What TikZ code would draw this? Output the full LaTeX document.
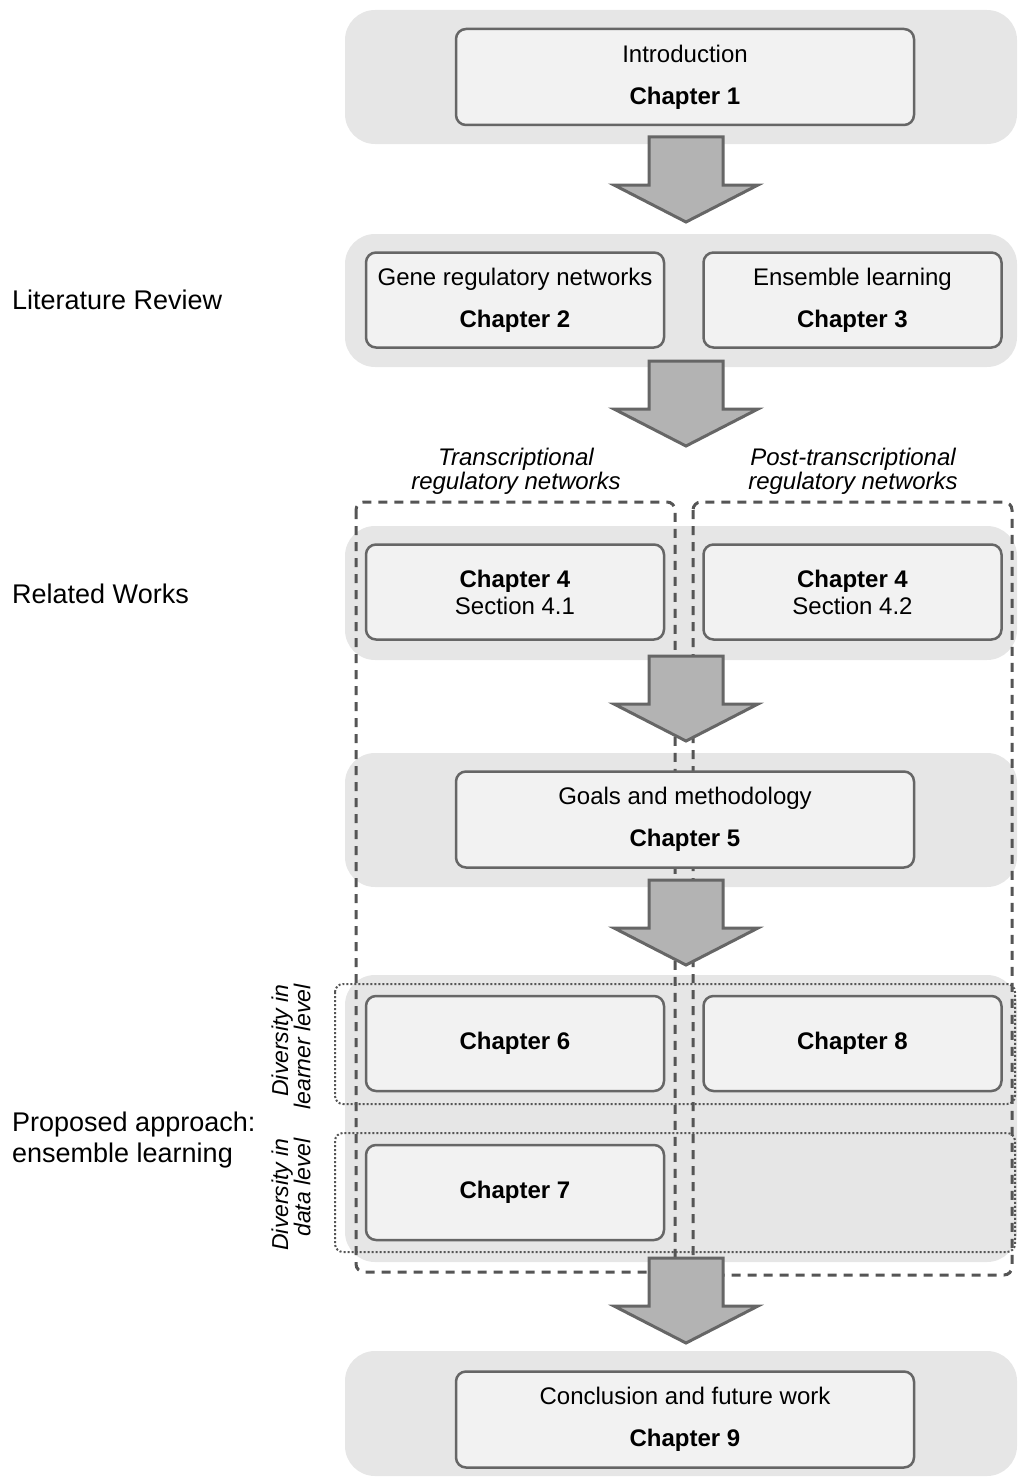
\documentclass[tikz,border=0pt]{standalone}
\usepackage{fontspec}
\setmainfont{Liberation Sans}
\definecolor{bandgray}{HTML}{E6E6E6}
\definecolor{boxgray}{HTML}{F2F2F2}
\definecolor{edgegray}{HTML}{666666}
\definecolor{arrowgray}{HTML}{B3B3B3}
\definecolor{linegray}{HTML}{555555}
\begin{document}
\begin{tikzpicture}[x=1pt,y=-1pt,
  band/.style={fill=bandgray, draw=none, rounded corners=30pt},
  chapbox/.style={draw=edgegray, fill=boxgray, line width=2.5pt, rounded corners=10pt,
    inner sep=0pt, align=center, font=\fontsize{24}{42}\selectfont},
  widebox/.style={chapbox, minimum width=458pt, minimum height=96pt},
  halfbox/.style={chapbox, minimum width=298pt, minimum height=95pt},
  sidelabel/.style={anchor=west, inner sep=0pt, align=left, font=\fontsize{27}{31}\selectfont},
  trackhead/.style={inner sep=0pt, align=center, font=\fontsize{24}{24}\selectfont\itshape},
  levellabel/.style={rotate=90, anchor=east, inner sep=0pt, align=right,
    font=\fontsize{23}{21}\selectfont\itshape},
  trackframe/.style={draw=linegray, line width=3pt, dash pattern=on 9pt off 7pt, rounded corners=8pt},
  levelframe/.style={draw=linegray, line width=2pt, dash pattern=on 2pt off 2pt, rounded corners=8pt},
  arrowbody/.style={draw=edgegray, fill=arrowgray, line width=3pt, line join=miter},
  blockarrow/.pic={\draw[arrowbody] (-37,0) -- (37,0) -- (37,48) -- (72,48) -- (0,85)
     -- (-72,48) -- (-37,48) -- cycle;}
]
\useasboundingbox (0,0) rectangle (1018,1477);

% background bands, one per stage
\fill[band] (345,10) rectangle (1017,144);
\fill[band] (345,234) rectangle (1017,367);
\fill[band] (345,526) rectangle (1017,660);
\fill[band] (345,753) rectangle (1017,887);
\fill[band] (345,975) rectangle (1017,1262);
\fill[band] (345,1351) rectangle (1017,1476);

% diversity levels
\draw[levelframe] (335,984) rectangle (1015,1104);
\draw[levelframe] (335,1133) rectangle (1015,1252);

% the two tracks
\draw[trackframe] (356,502) rectangle (675,1272);
\draw[trackframe] (693,502) rectangle (1012,1275);

% stage labels
\node[sidelabel] (lit) at (12,300) {Literature Review};
\node[sidelabel] (rel) at (12,594) {Related Works};
\node[sidelabel] (prop) at (12,1140) {Proposed approach:\\ensemble learning};

% track headings
\node[trackhead] (trans) at (516,471) {Transcriptional\\regulatory networks};
\node[trackhead] (post) at (853,471) {Post-transcriptional\\regulatory networks};

% level labels
\node[levellabel] (learner) at (291,984) {Diversity in\\learner level};
\node[levellabel] (data) at (291,1138) {Diversity in\\data level};

% chapters
\node[widebox] (c1) at (685,77) {Introduction\\\textbf{Chapter 1}};
\node[halfbox] (c2) at (515,300) {Gene regulatory networks\\\textbf{Chapter 2}};
\node[halfbox] (c3) at (852.5,300) {Ensemble learning\\\textbf{Chapter 3}};
\node[halfbox, font=\fontsize{24}{27}\selectfont] (c41) at (515,592) {\textbf{Chapter 4}\\Section 4.1};
\node[halfbox, font=\fontsize{24}{27}\selectfont] (c42) at (852.5,592) {\textbf{Chapter 4}\\Section 4.2};
\node[widebox] (c5) at (685,819.5) {Goals and methodology\\\textbf{Chapter 5}};
\node[halfbox] (c6) at (515,1043.5) {\textbf{Chapter 6}};
\node[halfbox] (c8) at (852.5,1043.5) {\textbf{Chapter 8}};
\node[halfbox] (c7) at (515,1192.5) {\textbf{Chapter 7}};
\node[widebox] (c9) at (685,1419.5) {Conclusion and future work\\\textbf{Chapter 9}};

% flow arrows between stages
\coordinate (a1) at (686,137);
\coordinate (a2) at (686,361);
\coordinate (a3) at (686,656);
\coordinate (a4) at (686,880);
\coordinate (a5) at (686,1258);
\pic at (a1) {blockarrow};
\pic at (a2) {blockarrow};
\pic at (a3) {blockarrow};
\pic at (a4) {blockarrow};
\pic at (a5) {blockarrow};
\end{tikzpicture}
\end{document}
